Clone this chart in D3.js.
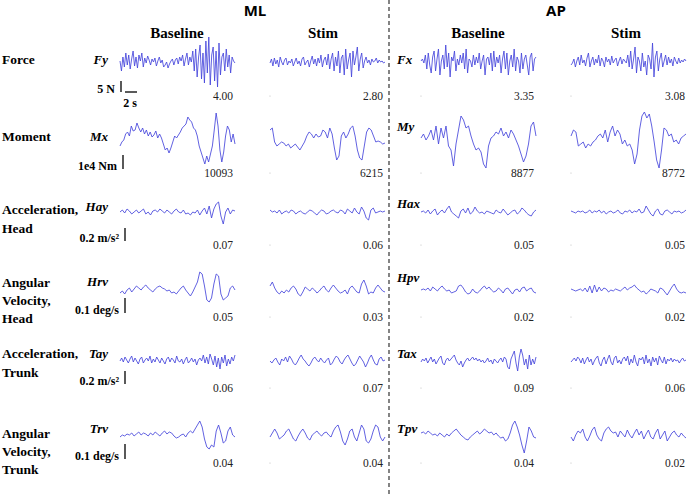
<!DOCTYPE html>
<html>
<head>
<meta charset="utf-8">
<script src="https://cdn.jsdelivr.net/npm/d3@7"></script>
<style>
  body { margin: 0; background: #fff; }
  svg { display: block; }
</style>
</head>
<body>
<div id="chart"></div>
<script>
// trace values, amplitude in px-equivalent units (up = positive)
var fyBase = [2,-8,6,-4,10,-2,8,-6,4,12,-3,6,-5,8,2,10,-4,5,0,7,
  3,-2,4,1,5,-3,2,6,0,3,-4,-2,1,-5,-1,2,4,-2,3,5,-1,6,2,8,-3,4,10,-2,6,1,
  12,-8,14,-14,6,18,-16,10,-20,22,-10,26,-22,8,16,-18,12,-24,20,-12,6,10,-8,14,-4,8,-10,6,2,0];
var fyStim = [0,4,-3,5,-1,3,-4,6,1,-2,3,5,-2,2,0,4,-3,1,5,-1,
  2,-3,4,6,-2,1,3,-4,2,7,-1,4,-3,5,0,8,-4,3,6,-2,
  9,-6,4,10,-8,6,-3,12,-10,5,8,-12,14,-6,3,10,-14,12,-2,6,
  16,-8,4,10,-5,2,6,0,3,-2,4,1,2,5,0,3,1,2,0,1];
var fxBase = [2,4,0,8,-6,10,-2,-10,6,12,-8,4,14,-12,2,8,-6,18,-4,10,
  -14,6,2,12,-8,4,-2,8,0,10,-6,14,-10,4,2,-4,8,-2,6,0,
  10,-6,2,8,-12,4,6,-2,10,-8,12,-4,6,0,8,-10,4,12,-6,10,
  -12,2,8,-4,14,-8,6,2,-10,10,-6,4,8,-2,-12,6,10,-8,4,6];
var fxStim = [-2,0,4,-4,2,6,-2,8,0,3,-3,5,10,-4,2,6,-2,4,0,8,
  -3,5,2,-4,6,1,4,-2,7,0,3,5,-3,2,6,-1,4,2,0,8,
  -4,12,-6,4,16,-10,6,2,-8,10,-4,2,-12,8,4,-6,20,-14,6,12,
  -8,4,10,-4,2,8,-2,6,0,4,-3,6,2,-1,5,0,3,1,4,2];

var mxBase = [-6,-2,0,6,8,4,14,9,10,17,12,8,12,6,10,4,8,3,5,9,2,6,2,-4,-10,-8,-13,-8,-2,4,2,5,8,12,14,16,23,20,18,12,10,4,-6,-12,-18,-24,-16,-22,-14,-6,10,27,14,-10,-22,-12,4,14,10,-2,6,-4];
var mxStim = [10,12,-2,-6,-4,-2,-3,-6,-4,-8,-6,-4,-7,-10,-6,-2,4,8,6,2,6,3,4,10,8,2,12,6,-8,-20,-16,4,8,2,6,12,14,4,-10,-18,-20,-6,8,12,10,4,-2,-1,-2,-4,-3];
var myBase = [2,6,0,4,10,0,14,-4,12,2,14,-6,-10,-26,-4,10,24,20,12,14,4,-4,-10,-8,-12,-24,-28,-6,2,4,8,6,12,4,8,2,10,6,0,-6,-14,-22,-16,-4,14,18,4];
var myStim = [4,10,8,-6,-4,-2,-8,-4,-6,-2,0,4,6,2,10,-2,8,14,4,10,6,-4,0,-6,-4,-10,-24,-14,10,24,28,22,26,14,-2,-20,-28,-10,12,10,4,6,-2,0,-4,2,4,6];

var hayBase = [0,2,-1,3,1,-2,0,2,-1,1,3,-2,0,-3,1,2,0,3,1,-1,2,0,-2,1,3,0,-1,2,-2,-1,-3,0,-1,2,-3,1,4,-2,6,-6,3,8,10,-4,-12,0,4,-2,2,1];
var hayStim = [2,0,1,-1,2,-2,0,1,-1,2,1,-2,0,1,-1,-2,0,2,1,-1,-3,0,2,1,-2,-1,1,2,0,-1,2,1,-2,3,1,-1,4,0,-2,5,1,-6,-8,2,4,-1,0,1,0,1];
var haxBase = [0,1,-1,2,-2,1,3,-3,0,2,-1,3,6,0,-2,-4,-6,1,3,-1,4,-2,0,5,1,-1,0,-2,1,0,-1,-2,2,0,-1,3,0,-3,-1,1,2,-2,0,4,2,-1,-3,-4,0,2];
var haxStim = [1,0,-1,1,0,1,-1,0,2,-1,1,0,2,-1,1,-2,0,1,-1,0,2,-1,-2,1,0,2,-1,1,0,3,-1,0,6,2,-2,-4,1,3,-2,-3,1,2,0,-2,1,0,1,-1,0,2];

var hrvBase = [-3,-1,-4,0,2,-2,1,4,2,0,3,5,2,0,-2,1,3,4,2,1,-1,0,-3,-2,-4,-1,2,4,0,-3,-6,-2,3,8,18,16,4,-10,-12,-8,6,16,14,-4,-10,-8,-6,2,4,0];
var hrvStim = [4,8,2,-2,-4,-1,-3,0,-2,2,4,1,-4,-6,-2,3,1,-1,2,0,-3,-1,2,4,0,-2,2,5,2,-1,-3,-2,0,-4,2,4,1,-2,-3,6,10,4,-4,-2,-3,2,5,2,-1,-2];
var hpvBase = [0,1,0,2,-1,3,1,-1,2,4,1,-1,0,-3,-2,-1,4,5,2,-2,-4,-3,1,-2,-3,-1,2,4,1,3,0,-2,-1,2,0,-3,1,2,-1,-4,0,1,-2,2,3,-1,1,2,-2,-3];
var hpvStim = [1,0,-1,0,1,-1,2,-2,4,-3,5,-2,3,-1,2,1,-2,0,-1,1,0,-1,1,3,0,2,3,5,2,0,-2,-1,-4,-2,1,0,-1,-3,2,1,-2,-5,-1,3,6,1,-2,-3,-2,-3];

var tayBase = [0,3,-1,4,1,-2,2,5,-1,3,0,-3,2,4,-2,1,3,0,5,-2,
  2,-1,4,1,-2,3,0,-3,2,4,-1,3,1,-2,5,0,-1,2,-3,1,
  4,-2,0,3,-1,2,-4,1,3,0,6,-2,4,-3,7,2,-4,5,-6,3,
  -8,4,-2,6,-5,2,-3,4,0,6];
var tayStim = [0,-2,1,3,-1,-4,2,0,4,-1,5,2,-2,-4,-1,3,6,2,0,-3,-5,-2,2,4,1,-1,3,0,-2,1,3,-4,-2,2,5,3,-1,-3,1,4,6,2,-2,-5,-3,1,5,2,-1,-6,-2,3,6,1,-3,-4,2,4,0,1];
var taxBase = [-1,2,0,3,-2,1,4,-1,2,-3,0,3,5,-2,-4,1,3,0,2,4,
  6,1,-2,-4,0,-6,-2,1,3,0,2,4,1,3,0,2,-1,1,-2,0,
  3,-1,1,-3,2,0,-2,1,3,-1,4,2,-6,-8,2,6,10,-2,-10,4,
  12,6,-4,2,-8,6,-4,2,-3,4];
var taxStim = [-1,1,3,0,4,2,-2,3,-3,1,4,-1,2,-4,0,3,5,-2,-5,1,
  4,-3,2,6,-1,-4,3,5,-2,1,-3,2,4,0,5,-4,2,-2,6,-1,
  -5,3,1,4,-3,6,-2,2,-5,4,-1,3,-4,5,1,-2,4,-3,2,0,
  3,-1,2,0,1,-2,1,3,0,1];

var trvBase = [-2,0,-1,1,0,2,-1,1,3,0,2,1,-1,2,0,3,1,-1,2,4,1,3,2,-1,-3,-2,0,1,-2,2,4,2,6,10,14,8,-4,-12,-14,-10,-12,4,10,2,-8,-6,4,8,0,-2];
var trvStim = [-2,2,6,2,-4,-2,0,4,6,1,-4,-6,-1,3,6,2,-3,-5,0,2,4,1,-1,2,3,0,-2,4,8,10,3,-6,-10,-4,4,6,-2,-6,2,10,6,-6,-8,-4,4,10,8,-2,-6,-2];
var tpvBase = [2,3,1,4,2,0,1,-1,2,0,-2,1,-1,2,4,6,3,0,-2,-4,-5,-2,0,2,4,1,3,6,4,2,3,0,2,-1,-3,-2,-6,-4,2,10,14,8,0,-10,-18,-6,8,4,-2,-3];
var tpvStim = [-2,-6,0,4,2,6,-2,-6,-1,5,8,0,-4,-6,2,6,8,4,2,3,-2,4,1,-2,5,0,-3,2,6,0,4,-4,1,5,-2,-4,2,6,-4,0,4,-6,-2,2,4,0,-2,2,-1,-3];

var rowNames = [["Force"], ["Moment"], ["Acceleration,", "Head"], ["Angular", "Velocity,", "Head"], ["Acceleration,", "Trunk"], ["Angular", "Velocity,", "Trunk"]];
var mlVars = ["Fy", "Mx", "Hay", "Hrv", "Tay", "Trv"];
var apVars = ["Fx", "My", "Hax", "Hpv", "Tax", "Tpv"];
var scaleLabels = ["5 N", "1e4 Nm", "0.2 m/s\u00b2", "0.1 deg/s", "0.2 m/s\u00b2", "0.1 deg/s"];
var scaleBarUnits = [11, 14, 13, 15, 13, 15];
var sdLabels = [
  ["4.00", "2.80", "3.35", "3.08"],
  ["10093", "6215", "8877", "8772"],
  ["0.07", "0.06", "0.05", "0.05"],
  ["0.05", "0.03", "0.02", "0.02"],
  ["0.06", "0.07", "0.09", "0.06"],
  ["0.04", "0.04", "0.04", "0.02"]
];
var traces = [
  [fyBase, fyStim, fxBase, fxStim],
  [mxBase, mxStim, myBase, myStim],
  [hayBase, hayStim, haxBase, haxStim],
  [hrvBase, hrvStim, hpvBase, hpvStim],
  [tayBase, tayStim, taxBase, taxStim],
  [trvBase, trvStim, tpvBase, tpvStim]
];

var svgWidth = 688;
var svgHeight = 496;

var rowCenter = [63, 140, 212, 290, 361, 435];
var rowLabelY = [[64], [141], [214, 233], [287, 305, 323], [358, 377], [438, 456, 474]];
var varLabelY = [64, 141, 211, 286, 358, 433];
var apVarLabelY = [64, 131, 208, 282, 358, 433];
var sdLabelY = [100, 177, 249, 321, 392, 467];
var colX = [120, 270, 421, 571];
var colRight = [233, 383, 534, 685];
var traceW = 115;

var svg = d3.select("#chart").append("svg")
  .attr("width", svgWidth)
  .attr("height", svgHeight);

var serif = "'Liberation Serif', 'Times New Roman', serif";

// headers
svg.append("text").attr("x", 255).attr("y", 16).attr("text-anchor", "middle")
  .style("font-family", "'Open Sans', 'Liberation Sans', sans-serif").style("font-weight", "bold").style("font-size", "15px")
  .text("ML");
svg.append("text").attr("x", 556).attr("y", 16).attr("text-anchor", "middle")
  .style("font-family", "'Open Sans', 'Liberation Sans', sans-serif").style("font-weight", "bold").style("font-size", "15px")
  .text("AP");

var colHeads = ["Baseline", "Stim", "Baseline", "Stim"];
var colHeadX = [177, 323, 478, 626];
colHeads.forEach(function(h, i) {
  svg.append("text").attr("x", colHeadX[i]).attr("y", 38).attr("text-anchor", "middle")
    .style("font-family", serif).style("font-weight", "bold").style("font-size", "15px")
    .text(h);
});

// dashed divider
svg.append("line")
  .attr("x1", 389).attr("x2", 389).attr("y1", 0).attr("y2", svgHeight)
  .attr("stroke", "#333").attr("stroke-width", 1.2).attr("stroke-dasharray", "4,3");

var xScale = d3.scaleLinear().range([0, traceW]);

traces.forEach(function(row, r) {
  var yScale = d3.scaleLinear().domain([-30, 30]).range([rowCenter[r] + 30, rowCenter[r] - 30]);

  // row label
  rowNames[r].forEach(function(t, k) {
    svg.append("text").attr("x", 2).attr("y", rowLabelY[r][k])
      .style("font-family", serif).style("font-weight", "bold").style("font-size", "13.5px")
      .text(t);
  });

  // variable names
  svg.append("text").attr("x", 108).attr("y", varLabelY[r]).attr("text-anchor", "end")
    .style("font-family", serif).style("font-weight", "bold").style("font-style", "italic").style("font-size", "13px")
    .text(mlVars[r]);
  svg.append("text").attr("x", 397).attr("y", apVarLabelY[r])
    .style("font-family", serif).style("font-weight", "bold").style("font-style", "italic").style("font-size", "13px")
    .text(apVars[r]);

  // scale bar
  var barBottom = sdLabelY[r] - 8;
  var barPx = yScale(0) - yScale(scaleBarUnits[r]);
  var barX = r == 0 ? 121 : (r == 1 ? 123 : 125);
  svg.append("line")
    .attr("x1", barX).attr("x2", barX).attr("y1", barBottom).attr("y2", barBottom - barPx)
    .attr("stroke", "#000").attr("stroke-width", 1.3);
  svg.append("text").attr("x", barX - 6).attr("y", sdLabelY[r] - 7).attr("text-anchor", "end")
    .style("font-family", serif).style("font-weight", "bold").style("font-size", "12px")
    .text(scaleLabels[r]);
  if (r == 0) {
    svg.append("line").attr("x1", 125).attr("x2", 137).attr("y1", barBottom).attr("y2", barBottom)
      .attr("stroke", "#000").attr("stroke-width", 1.3);
    svg.append("text").attr("x", 130).attr("y", 107).attr("text-anchor", "middle")
      .style("font-family", serif).style("font-weight", "bold").style("font-size", "12px")
      .text("2 s");
  }

  row.forEach(function(vals, c) {
    xScale.domain([0, vals.length - 1]);
    var line = d3.line()
      .x(function(d, i) { return colX[c] + xScale(i); })
      .y(function(d) { return yScale(d); });

    svg.append("path")
      .datum(vals)
      .attr("d", line)
      .attr("fill", "none")
      .attr("stroke", "#4646dc")
      .attr("stroke-width", 0.85)
      .attr("stroke-linejoin", "round");

    svg.append("text").attr("x", colRight[c]).attr("y", sdLabelY[r]).attr("text-anchor", "end")
      .style("font-family", serif).style("font-size", "11.5px").attr("fill", "#222")
      .text(sdLabels[r][c]);

    if (c > 0) {
      svg.append("circle").attr("cx", colX[c]).attr("cy", sdLabelY[r] - 4).attr("r", 0.6)
        .attr("fill", "#bbb");
    }
  });
});
</script>
</body>
</html>
